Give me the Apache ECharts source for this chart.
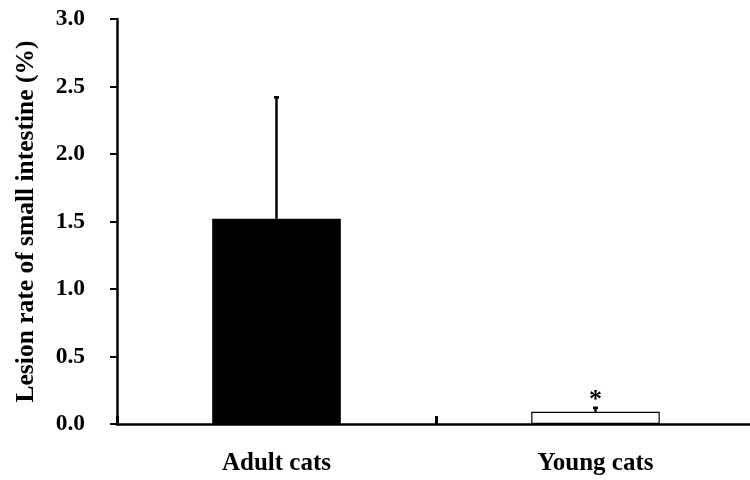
<!DOCTYPE html>
<html>
<head>
<meta charset="utf-8">
<script src="https://cdn.jsdelivr.net/npm/echarts@6/dist/echarts.min.js"></script>
<style>html,body{margin:0;padding:0;background:#fff}#c{width:750px;height:480px}</style>
</head>
<body>
<div id="c"></div>
<script>
const categories = ['Adult cats', 'Young cats'];
const means = [1.52, 0.09];
const errTop = [2.42, 0.12];
const barColors = ['#000000', '#ffffff'];
const marks = ['', '*'];
const yTicks = [0, 0.5, 1.0, 1.5, 2.0, 2.5, 3.0];

const font = '"Liberation Serif", "Times New Roman", serif';
const chart = echarts.init(document.getElementById('c'));
chart.setOption({
  animation: false,
  grid: { left: 117, width: 638, top: 19, bottom: 56, outerBoundsMode: 'none', containLabel: false },
  xAxis: {
    type: 'category',
    data: categories,
    boundaryGap: true,
    axisLine: { lineStyle: { color: '#000', width: 2.5 } },
    axisTick: { show: true, interval: 0, inside: true, length: 8, lineStyle: { color: '#000', width: 3 } },
    axisLabel: { color: '#000', fontFamily: font, fontWeight: 'bold', fontSize: 25, margin: 27 }
  },
  yAxis: {
    type: 'value',
    min: yTicks[0],
    max: yTicks[yTicks.length - 1],
    interval: 0.5,
    name: 'Lesion rate of small intestine (%)',
    nameLocation: 'middle',
    nameGap: 78,
    nameTextStyle: { color: '#000', fontFamily: font, fontWeight: 'bold', fontSize: 25.5 },
    splitLine: { show: false },
    axisLine: { show: true, lineStyle: { color: '#000', width: 2.5 } },
    axisTick: { show: true, length: 7, lineStyle: { color: '#000', width: 2 } },
    axisLabel: { color: '#000', fontFamily: font, fontWeight: 'bold', fontSize: 23.5, margin: 32,
      formatter: v => v.toFixed(1) }
  },
  series: [
    {
      type: 'bar',
      barWidth: '40.3%',
      data: means.map((v, i) => ({ value: v, itemStyle: { color: barColors[i], borderColor: '#000', borderWidth: 1.2 } })),
      z: 2
    },
    {
      type: 'custom',
      z: 3,
      data: categories.map((c, i) => [i, means[i], errTop[i]]),
      renderItem: function (params, api) {
        const i = api.value(0);
        const p0 = api.coord([i, api.value(1)]);
        const p1 = api.coord([i, api.value(2)]);
        const children = [
          { type: 'line', shape: { x1: p0[0], y1: p0[1], x2: p1[0], y2: p1[1] }, style: { stroke: '#000', lineWidth: 2.5 } },
          { type: 'line', shape: { x1: p1[0] - 2.5, y1: p1[1], x2: p1[0] + 2.5, y2: p1[1] }, style: { stroke: '#000', lineWidth: 2.5 } }
        ];
        const m = marks[i];
        if (m) {
          children.push({ type: 'text', x: p1[0], y: p1[1] + 5, style: { text: m, fill: '#000', font: 'bold 26px ' + font, align: 'center', verticalAlign: 'bottom' } });
        }
        return { type: 'group', children: children };
      }
    }
  ]
});
</script>
</body>
</html>
